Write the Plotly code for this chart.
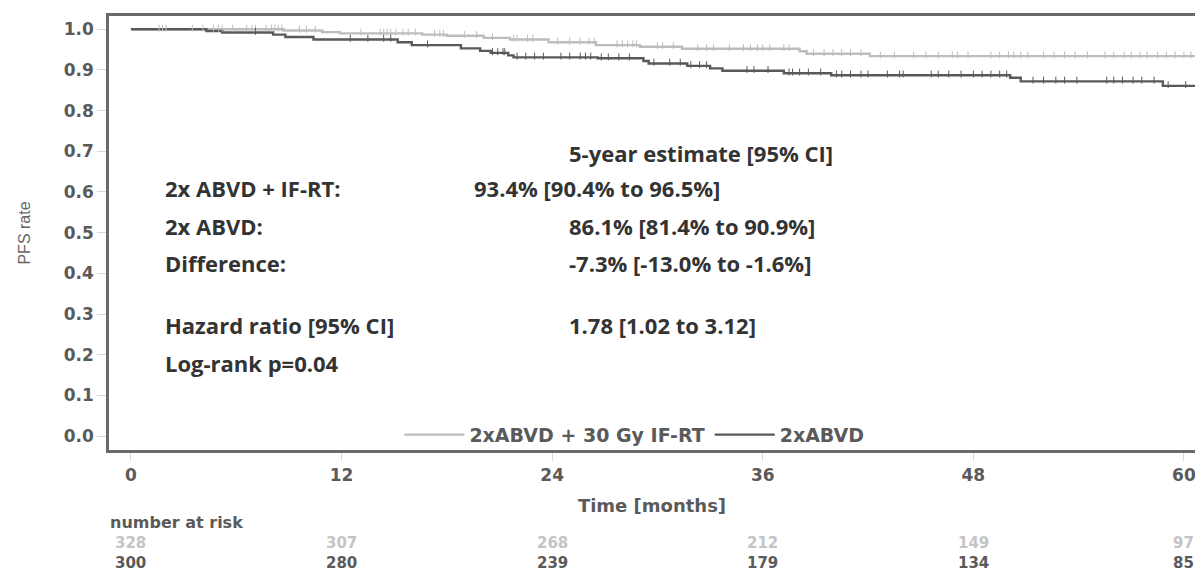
import numpy as np
import plotly.graph_objects as go

# ---------------- data ----------------
months_ticks = [0, 12, 24, 36, 48, 60]

# 2xABVD + 30 Gy IF-RT  (step times in months, survival after step)
rt_times = [0, 8.7, 10.9, 11.9, 16.6, 18.0, 20.1, 21.6, 23.8, 26.5, 29.0, 31.4, 38.1, 38.5, 42.1, 60.7]
rt_surv = [1.0, 0.997, 0.993, 0.990, 0.987, 0.984, 0.979, 0.975, 0.968, 0.961, 0.957, 0.952, 0.946, 0.940, 0.934, 0.934]

# 2xABVD
abvd_times = [0, 4.3, 5.2, 8.1, 8.8, 10.4, 15.2, 16.0, 18.8, 19.9, 20.5, 21.5, 21.8, 26.6, 29.2, 29.5,
              31.7, 33.0, 33.7, 37.2, 39.9, 50.1, 50.7, 58.8, 60.7]
abvd_surv = [1.0, 0.996, 0.992, 0.987, 0.981, 0.975, 0.968, 0.961, 0.953, 0.947, 0.942, 0.936, 0.931, 0.929,
             0.922, 0.916, 0.910, 0.904, 0.898, 0.892, 0.887, 0.881, 0.872, 0.861, 0.861]

# censoring times (months)
rt_censor = [1.6, 1.8, 2.0, 3.5, 4.1, 4.7, 5.0, 5.2, 5.8, 6.6, 6.9, 7.1, 7.7, 8.0, 8.2, 8.4, 8.6, 9.6, 10.0,
             10.5, 13.1, 14.2, 14.4, 14.6, 14.8, 15.1, 15.5, 15.8, 16.2, 17.3, 17.6, 17.8, 19.0, 19.7, 20.6,
             21.8, 22.0, 22.6, 22.9, 24.3, 25.0, 25.6, 26.1, 26.4, 27.7, 28.0, 28.3, 28.6, 28.8, 30.0, 30.3,
             30.9, 32.3, 32.8, 33.2, 34.1, 34.9, 35.3, 35.7, 36.0, 36.4, 37.2, 37.5, 38.9, 39.5, 40.0, 40.5,
             41.0, 41.6, 42.7, 43.5, 44.6, 45.3, 46.0, 46.8, 47.1, 47.7, 49.0, 49.5, 50.0, 50.3, 50.7, 51.1,
             52.0, 52.6, 53.2, 53.8, 54.5, 55.5, 56.0, 56.6, 57.0, 57.5, 57.9, 58.5, 59.0, 59.5, 60.0, 60.4]
abvd_censor = [7.1, 12.5, 13.5, 14.4, 14.8, 16.9, 20.6, 20.9, 21.2, 21.3, 22.0, 22.5, 23.0, 23.5, 24.5, 25.0,
               25.6, 25.9, 26.2, 26.8, 27.2, 27.8, 28.4, 29.8, 30.7, 31.3, 31.9, 32.4, 32.8, 35.1, 35.5, 36.3,
               37.5, 37.7, 38.1, 38.6, 39.3, 40.2, 40.5, 41.0, 41.6, 42.0, 43.1, 43.8, 44.0, 45.6, 46.0, 46.6,
               47.3, 48.0, 48.5, 49.0, 49.5, 49.9, 51.4, 52.0, 52.7, 53.2, 53.9, 55.6, 56.0, 56.5, 57.1, 57.6,
               58.3, 59.1, 60.1]

risk_rt = [328, 307, 268, 212, 149, 97]
risk_abvd = [300, 280, 239, 179, 134, 85]

series_names = ["2xABVD + 30 Gy IF-RT", "2xABVD"]

stats_labels = ["2x ABVD + IF-RT:", "2x ABVD:", "Difference:", "Hazard ratio [95% CI]", "Log-rank p=0.04"]
stats_values = ["93.4% [90.4% to 96.5%]", "86.1% [81.4% to 90.9%]", "-7.3% [-13.0% to -1.6%]",
                "1.78 [1.02 to 3.12]", ""]
stats_header = "5-year estimate [95% CI]"

# ---------------- style ----------------
LIGHT = "#bdbdbd"
DARK = "#595959"
AXIS = "#6a6a6a"
TXT = "#5a5a5a"
TICKFONT = dict(family="DejaVu Sans", size=17, color=TXT, weight="bold")


def step_eval(times, surv, t):
    idx = np.searchsorted(np.array(times), np.array(t), side="right") - 1
    return np.array(surv)[idx]


fig = go.Figure()
fig.add_trace(go.Scatter(x=rt_times, y=rt_surv, mode="lines", line=dict(color=LIGHT, width=2.4, shape="hv"),
                         name=series_names[0]))
fig.add_trace(go.Scatter(x=abvd_times, y=abvd_surv, mode="lines", line=dict(color=DARK, width=2.4, shape="hv"),
                         name=series_names[1]))
fig.add_trace(go.Scatter(x=rt_censor, y=step_eval(rt_times, rt_surv, rt_censor) + 0.003, mode="markers",
                         marker=dict(symbol="line-ns", size=5, line=dict(color=LIGHT, width=1)),
                         showlegend=False, hoverinfo="skip"))
fig.add_trace(go.Scatter(x=abvd_censor, y=step_eval(abvd_times, abvd_surv, abvd_censor) + 0.003, mode="markers",
                         marker=dict(symbol="line-ns", size=5, line=dict(color=DARK, width=1)),
                         showlegend=False, hoverinfo="skip"))

# stats text block
STATFONT = dict(family="Open Sans", size=22, color="#333333", weight="bold")
label_y = [0.610, 0.516, 0.425, 0.273, 0.180]
value_x = [19.44, 24.86, 24.86, 24.86, 24.86]
fig.add_annotation(x=24.86, y=0.696, xref="x", yref="y", text=stats_header, showarrow=False,
                   xanchor="left", yanchor="middle", font=STATFONT)
for lab, val, yy, vx in zip(stats_labels, stats_values, label_y, value_x):
    fig.add_annotation(x=1.82, y=yy, xref="x", yref="y", text=lab, showarrow=False,
                       xanchor="left", yanchor="middle", font=STATFONT)
    if val:
        fig.add_annotation(x=vx, y=yy, xref="x", yref="y", text=val, showarrow=False,
                           xanchor="left", yanchor="middle", font=STATFONT)

# number at risk table
fig.add_annotation(x=-1.25, y=-0.166, xref="x", yref="paper", text="number at risk", showarrow=False,
                   xanchor="left", yanchor="middle", borderpad=0,
                   font=dict(family="DejaVu Sans", size=16, color=TXT, weight="bold"))
for t, a, b in zip(months_ticks, risk_rt, risk_abvd):
    fig.add_annotation(x=t, y=-0.2373, xref="x", yref="paper",
                       text=f"<span style='color:#c4c4c4'>{a}</span><br><span style='color:{TXT}'>{b}</span>",
                       showarrow=False, xanchor="center", yanchor="middle", align="center", borderpad=0,
                       font=dict(family="DejaVu Sans", size=15, color=TXT, weight="bold"))

fig.update_layout(
    width=1195, height=573,
    margin=dict(l=109, r=0, t=16, b=123),
    paper_bgcolor="white", plot_bgcolor="white",
    showlegend=True,
    legend=dict(orientation="h", x=0.2674, y=0.035, xanchor="left", yanchor="middle",
                font=dict(family="DejaVu Sans", size=19, color=TXT, weight="bold"),
                bgcolor="rgba(255,255,255,0)", itemwidth=60),
    xaxis=dict(range=[-1.25, 60.63], tickvals=months_ticks, ticktext=[str(m) for m in months_ticks],
               showgrid=False, zeroline=False, showline=True, mirror=True, linecolor=AXIS, linewidth=2.5,
               ticks="outside", ticklen=8, tickcolor="#d9d9d9", tickwidth=1, tickfont=TICKFONT,
               ticklabeloverflow="allow",
               title=dict(text="Time [months]", font=dict(family="DejaVu Sans", size=18, color=TXT, weight="bold"),
                          standoff=16)),
    yaxis=dict(range=[-0.0344, 1.0327], tickvals=[i / 10 for i in range(11)],
               ticktext=[f"{i / 10:.1f}" for i in range(11)],
               showgrid=False, zeroline=False, showline=True, mirror=False, linecolor=AXIS, linewidth=2.5,
               ticks="outside", ticklen=9, tickcolor="#d9d9d9", tickwidth=1, tickfont=TICKFONT,
               title=dict(text="PFS rate", font=dict(family="Liberation Sans", size=16, color="#666666"),
                          standoff=30)),
)

fig.write_html("out.html", config={"displayModeBar": False},
               post_script="document.body.style.margin='0px';document.body.style.overflow='hidden';")
